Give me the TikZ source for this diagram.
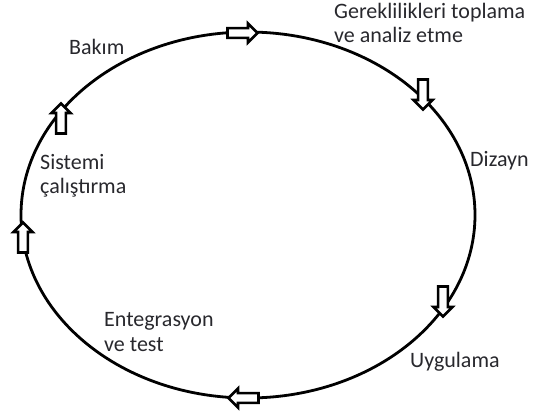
\documentclass[tikz,border=0pt]{standalone}
\usepackage{fontspec}
\setmainfont{Carlito}
\usetikzlibrary{shapes.arrows}
\definecolor{txt}{RGB}{40,40,45}
\begin{document}
\begin{tikzpicture}[x=1pt,y=1pt,
  blk/.style={single arrow, draw=black, fill=white, line width=2.6pt,
    minimum height=30pt, minimum width=19pt, inner sep=3pt,
    single arrow head extend=4pt, single arrow head indent=0pt},
  lbl/.style={anchor=base west, text=txt, font=\fontsize{22}{24}\selectfont, inner sep=0pt, align=left}]
\useasboundingbox (0,0) rectangle (535,415);
\draw[line width=2.8pt] (248,200) ellipse [x radius=227, y radius=183];
\node[blk] (a1) at (240,382) {};
\node[blk, rotate=-90] (a2) at (423,323) {};
\node[blk, rotate=-90] (a3) at (443,116) {};
\node[blk, rotate=180] (a4) at (246,17) {};
\node[blk, rotate=90] (a5) at (23,175) {};
\node[blk, rotate=90] (a6) at (61,294) {};
\node[lbl] (t1) at (334,372) {Gereklilikleri toplama\\ve analiz etme};
\node[lbl] (t2) at (470,248) {Dizayn};
\node[lbl] (t3) at (410,48) {Uygulama};
\node[lbl] (t4) at (104,64) {Entegrasyon\\ve test};
\node[lbl] (t5) at (40,221) {Sistemi\\çalıştırma};
\node[lbl] (t6) at (69,360) {Bakım};
\end{tikzpicture}
\end{document}
